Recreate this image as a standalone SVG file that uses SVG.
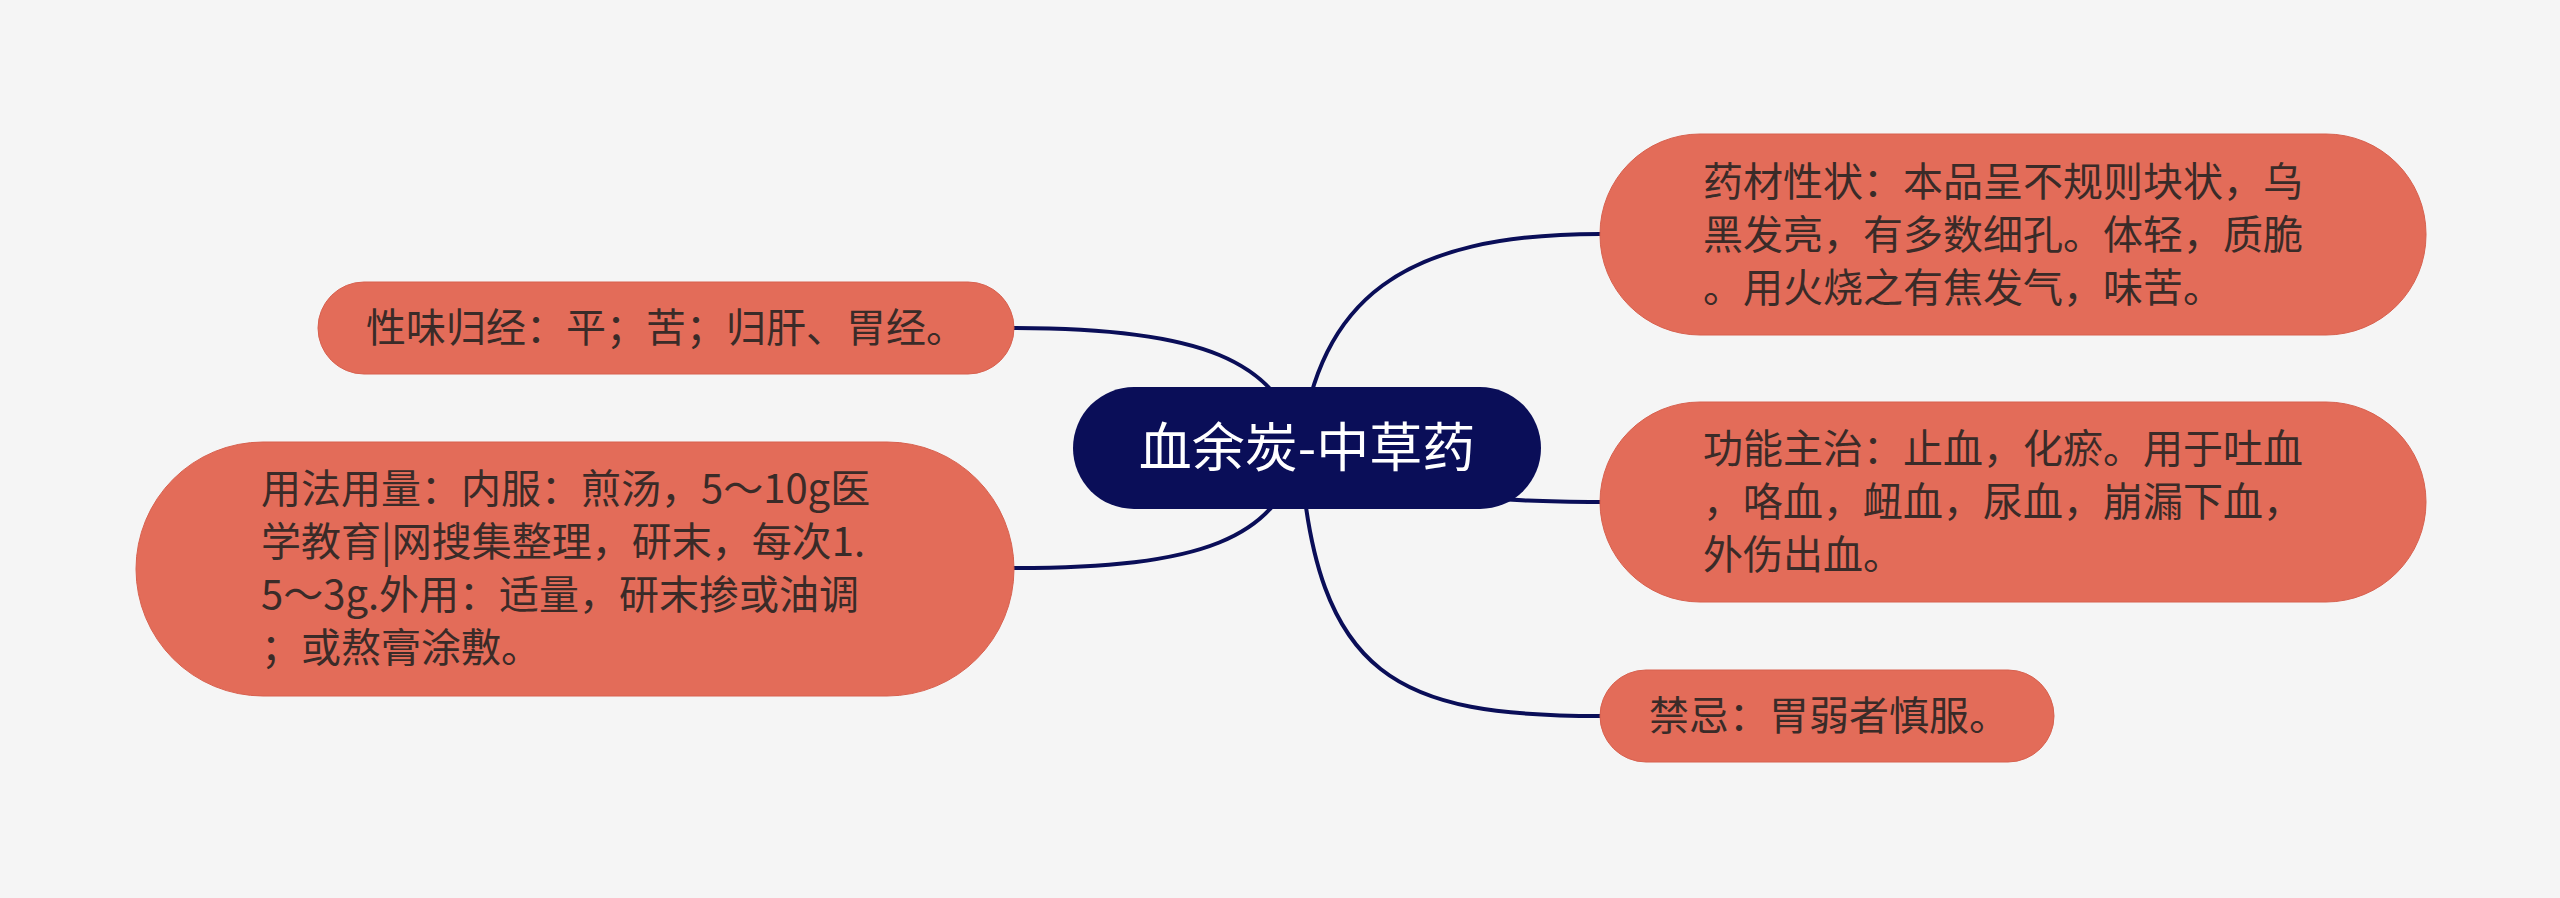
<svg xmlns="http://www.w3.org/2000/svg" width="2560" height="898" viewBox="0 0 2560 898">
<style>
.bg{fill:#f5f5f5}
.sub rect{fill:#e36c59;stroke:#d8614f;stroke-width:1}
.sub text{font-family:"Noto Sans CJK SC","Noto Sans",sans-serif;font-size:40px;fill:#3a2b28}
.root rect{fill:#0a0e58}
.root text{font-family:"Noto Sans CJK SC","Noto Sans",sans-serif;font-size:53px;fill:#ffffff}
.conn path{fill:none;stroke:#0a0e58;stroke-width:4;stroke-linecap:round}
</style>
<rect class="bg" x="0" y="0" width="2560" height="898"/>
<g id="connectors" class="conn">
<path d="M1300,448 C1280,360 1200,328 1014,328"/>
<path d="M1300,448 C1280,540 1200,568 1014,568"/>
<path d="M1300,448 C1320,300 1400,234 1600,234"/>
<path d="M1300,448 C1420,498 1500,502 1600,502"/>
<path d="M1300,448 C1315,680 1400,716 1600,716"/>
</g>
<g id="root" class="root">
<rect x="1073" y="387" width="468" height="122" rx="61" ry="61"/>
<text x="1307" y="467" text-anchor="middle">血余炭-中草药</text>
</g>
<g id="node-xingwei" class="sub">
<rect x="318" y="282" width="696" height="92" rx="46" ry="46"/>
<text x="366" y="342">性味归经：平；苦；归肝、胃经。</text>
</g>
<g id="node-yongfa" class="sub">
<rect x="136" y="442" width="878" height="254" rx="127" ry="127"/>
<text x="261" y="503">用法用量：内服：煎汤，5～10g医</text>
<text x="261" y="556">学教育|网搜集整理，研末，每次1.</text>
<text x="261" y="609">5～3g.外用：适量，研末掺或油调</text>
<text x="261" y="662">；或熬膏涂敷。</text>
</g>
<g id="node-yaocai" class="sub">
<rect x="1600" y="134" width="826" height="201" rx="100" ry="100"/>
<text x="1703" y="196">药材性状：本品呈不规则块状，乌</text>
<text x="1703" y="249">黑发亮，有多数细孔。体轻，质脆</text>
<text x="1703" y="302">。用火烧之有焦发气，味苦。</text>
</g>
<g id="node-gongneng" class="sub">
<rect x="1600" y="402" width="826" height="200" rx="100" ry="100"/>
<text x="1703" y="463">功能主治：止血，化瘀。用于吐血</text>
<text x="1703" y="516">，咯血，衄血，尿血，崩漏下血，</text>
<text x="1703" y="569">外伤出血。</text>
</g>
<g id="node-jinji" class="sub">
<rect x="1600" y="670" width="454" height="92" rx="46" ry="46"/>
<text x="1649" y="730">禁忌：胃弱者慎服。</text>
</g>
</svg>
